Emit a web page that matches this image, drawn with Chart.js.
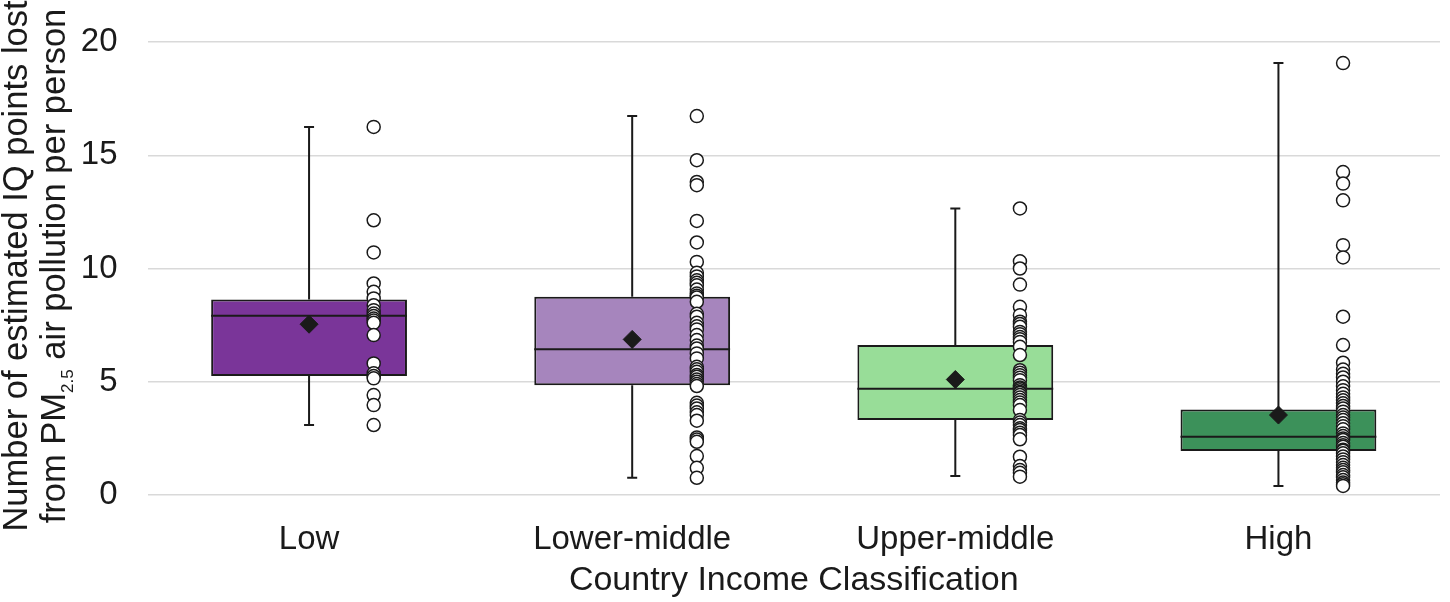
<!DOCTYPE html>
<html>
<head>
<meta charset="utf-8">
<script src="https://cdn.jsdelivr.net/npm/chart.js@4"></script>
<style>
  html, body { margin: 0; padding: 0; background: #fff; }
  #wrap { width: 1450px; height: 602px; }
</style>
</head>
<body>
<div id="wrap"><canvas id="iqChart" width="1450" height="602"></canvas></div>
<script>
// categories and box summary values
const categories = ['Low', 'Lower-middle', 'Upper-middle', 'High'];
const whiskerMin = [3.09, 0.76, 0.84, 0.40];
const q1 = [5.25, 4.85, 3.31, 1.94];
const median = [7.91, 6.44, 4.69, 2.57];
const q3 = [8.63, 8.75, 6.62, 3.78];
const whiskerMax = [16.25, 16.73, 12.65, 19.07];
const means = [7.54, 6.87, 5.10, 3.53];
const boxColors = ['#7a3599', '#a685bd', '#98dd98', '#3c915a'];

// individual country values (circles)
const lowPoints = [16.25, 12.13, 10.71, 9.34, 8.97, 8.68, 8.38, 8.16, 8.01, 7.9, 7.79, 7.7, 7.6,
  7.06, 5.81, 5.37, 5.25, 5.15, 4.41, 3.97, 3.09];
const lowerMiddlePoints = [16.73, 14.78, 13.82, 13.68, 12.1, 11.15, 10.29, 9.81, 9.65, 9.48, 9.37,
  9.26, 9.07, 8.9, 8.8, 8.72, 8.53, 8.0, 7.87, 7.6, 7.45, 7.31, 7.06, 6.84, 6.6, 6.47, 6.25, 6.03,
  5.66, 5.55, 5.44, 5.3, 5.22, 5.1, 5.0, 4.9, 4.81, 4.07, 3.95, 3.82, 3.65, 3.53, 3.28, 2.54, 2.45,
  2.35, 1.72, 1.2, 0.76];
const upperMiddlePoints = [12.65, 10.32, 10.0, 9.29, 8.31, 7.94, 7.65, 7.55, 7.43, 7.2, 7.1, 6.98,
  6.88, 6.76, 6.54, 6.18, 5.51, 5.4, 5.29, 5.18, 5.07, 4.85, 4.75, 4.7, 4.63, 4.55, 4.5, 4.41, 4.3,
  4.19, 4.08, 3.97, 3.75, 3.31, 3.2, 3.09, 2.95, 2.87, 2.75, 2.65, 2.46, 1.69, 1.28, 1.1, 0.98, 0.81];
const highPoints = [19.07, 14.26, 13.75, 13.01, 11.03, 10.49, 7.87, 6.62, 5.84, 5.54, 5.35, 5.19,
  5.0, 4.8, 4.63, 4.47, 4.31, 4.18, 4.05, 3.93, 3.82, 3.68, 3.53, 3.42, 3.31, 3.17, 3.04, 2.9, 2.72,
  2.6, 2.5, 2.43, 2.3, 2.2, 2.13, 2.0, 1.95, 1.84, 1.7, 1.57, 1.45, 1.32, 1.2, 1.1, 1.0, 0.88, 0.78,
  0.66, 0.55, 0.48, 0.4];
const groupPoints = [lowPoints, lowerMiddlePoints, upperMiddlePoints, highPoints];

const yTicks = [0, 5, 10, 15, 20];

const FONT = '"Liberation Sans", Arial, sans-serif';
const INK = '#1a1a1a';
const POINT_SHIFT = 0.2; // circles sit to the right of each box

const scatterData = [];
groupPoints.forEach((vals, i) => {
  vals.forEach(v => scatterData.push({ x: i + POINT_SHIFT, y: v }));
});

// whiskers, caps and median lines, drawn right after the boxes
const boxExtras = {
  id: 'boxExtras',
  afterDatasetDraw(chart, args) {
    if (args.meta.type !== 'bar') return;
    const ctx = chart.ctx;
    const xs = chart.scales.x;
    const ys = chart.scales.y;
    ctx.save();
    ctx.strokeStyle = INK;
    ctx.lineWidth = 2;
    categories.forEach((c, i) => {
      const x = xs.getPixelForValue(i);
      const bar = args.meta.data[i];
      const half = bar.width / 2;
      ctx.beginPath();
      ctx.moveTo(x, ys.getPixelForValue(q3[i]));
      ctx.lineTo(x, ys.getPixelForValue(whiskerMax[i]));
      ctx.moveTo(x, ys.getPixelForValue(q1[i]));
      ctx.lineTo(x, ys.getPixelForValue(whiskerMin[i]));
      ctx.moveTo(x - 5, ys.getPixelForValue(whiskerMax[i]));
      ctx.lineTo(x + 5, ys.getPixelForValue(whiskerMax[i]));
      ctx.moveTo(x - 5, ys.getPixelForValue(whiskerMin[i]));
      ctx.lineTo(x + 5, ys.getPixelForValue(whiskerMin[i]));
      ctx.moveTo(bar.x - half, ys.getPixelForValue(median[i]));
      ctx.lineTo(bar.x + half, ys.getPixelForValue(median[i]));
      ctx.stroke();
    });
    ctx.restore();
  }
};

// two-line y title with the PM2.5 subscript
const yTitle = {
  id: 'yTitle',
  afterDraw(chart) {
    const ctx = chart.ctx;
    const main = '34.5px ' + FONT;
    const sub = '17px ' + FONT;
    ctx.save();
    ctx.translate(0, 266);
    ctx.rotate(-Math.PI / 2);
    ctx.fillStyle = INK;
    ctx.textBaseline = 'alphabetic';
    ctx.font = main;
    ctx.textAlign = 'center';
    ctx.fillText('Number of estimated IQ points lost', 0, 27);

    const a = 'from PM', s = '2.5', b = ' air pollution per person';
    ctx.textAlign = 'left';
    ctx.font = main;
    const wa = ctx.measureText(a).width, wb = ctx.measureText(b).width;
    ctx.font = sub;
    const ws = ctx.measureText(s).width;
    let x = -(wa + ws + wb) / 2;
    ctx.font = main;
    ctx.fillText(a, x, 65);
    x += wa;
    ctx.font = sub;
    ctx.fillText(s, x, 73);
    x += ws;
    ctx.font = main;
    ctx.fillText(b, x, 65);
    ctx.restore();
  }
};

new Chart(document.getElementById('iqChart'), {
  type: 'bar',
  data: {
    labels: categories,
    datasets: [
      {
        type: 'scatter',
        xAxisID: 'xs',
        data: scatterData,
        pointRadius: 6.5,
        pointBackgroundColor: '#ffffff',
        pointBorderColor: INK,
        pointBorderWidth: 1.5,
        order: 0
      },
      {
        type: 'scatter',
        xAxisID: 'xs',
        data: means.map((m, i) => ({ x: i, y: m })),
        pointStyle: 'rectRot',
        pointRadius: 9,
        pointBackgroundColor: INK,
        pointBorderColor: INK,
        pointBorderWidth: 1,
        order: 1
      },
      {
        type: 'bar',
        xAxisID: 'x',
        data: q1.map((v, i) => [v, q3[i]]),
        backgroundColor: boxColors,
        borderColor: INK,
        borderWidth: 2,
        borderSkipped: false,
        grouped: false,
        barPercentage: 0.606,
        categoryPercentage: 1,
        order: 2
      }
    ]
  },
  options: {
    responsive: false,
    devicePixelRatio: 1,
    animation: false,
    layout: { padding: { top: 42, right: 2.5, left: 0, bottom: 0 } },
    plugins: {
      legend: { display: false },
      tooltip: { enabled: false }
    },
    scales: {
      x: {
        type: 'category',
        grid: { display: false },
        border: { display: false },
        ticks: { font: { family: FONT, size: 33 }, color: INK, padding: 17 },
        title: {
          display: true,
          text: 'Country Income Classification',
          font: { family: FONT, size: 34 },
          color: INK,
          padding: { top: 0, bottom: 1 }
        },
        afterFit(scale) { scale.height = 107; }
      },
      xs: {
        type: 'linear',
        min: -0.5,
        max: 3.5,
        offset: false,
        display: false
      },
      y: {
        min: 0,
        max: 20,
        afterBuildTicks(scale) { scale.ticks = yTicks.map(v => ({ value: v })); },
        grid: { color: '#d9d9d9', lineWidth: 1.5, drawTicks: false },
        border: { display: false },
        ticks: { font: { family: FONT, size: 33 }, color: INK, padding: 30 },
        afterFit(scale) {
          scale.width = 147.5;
          scale.paddingTop = 0;
          scale.paddingBottom = 0;
        }
      }
    }
  },
  plugins: [boxExtras, yTitle]
});
</script>
</body>
</html>
